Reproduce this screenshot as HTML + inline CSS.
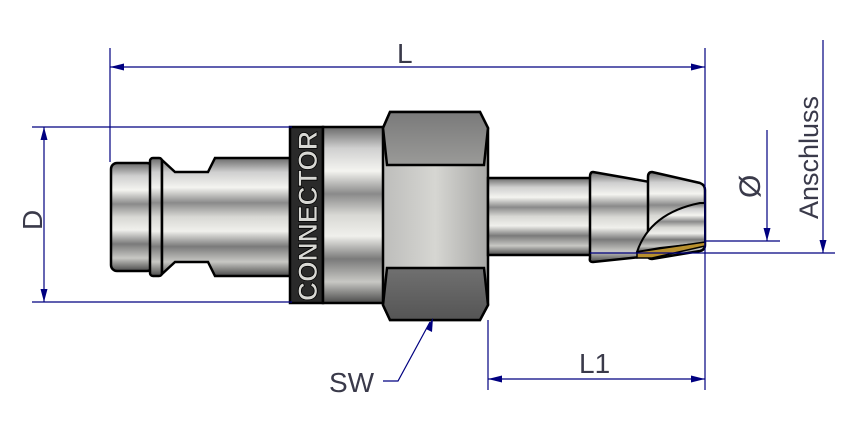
<!DOCTYPE html>
<html><head><meta charset="utf-8"><style>
html,body{margin:0;padding:0;background:#fff;width:854px;height:440px;overflow:hidden}
svg{display:block}
text{font-family:"Liberation Sans",sans-serif;fill:#3a3a4a}
</style></head><body>
<svg width="854" height="440" viewBox="0 0 854 440" xmlns="http://www.w3.org/2000/svg">
<defs>
<linearGradient id="m" x1="0" y1="0" x2="0" y2="1">
<stop offset="0" stop-color="#6a6a6a"/><stop offset="0.12" stop-color="#cfcfcf"/>
<stop offset="0.25" stop-color="#f4f4f0"/><stop offset="0.38" stop-color="#8a8a8a"/>
<stop offset="0.5" stop-color="#d8d8d4"/><stop offset="0.62" stop-color="#f0f0ec"/>
<stop offset="0.75" stop-color="#7a7a7a"/><stop offset="0.88" stop-color="#c8c8c4"/>
<stop offset="1" stop-color="#4a4a4a"/></linearGradient>
<linearGradient id="hexTop" x1="0" y1="0" x2="0" y2="1"><stop offset="0" stop-color="#7a7a7a"/><stop offset="1" stop-color="#9a9a98"/></linearGradient>
<linearGradient id="hexBot" x1="0" y1="0" x2="0" y2="1"><stop offset="0" stop-color="#707070"/><stop offset="1" stop-color="#555"/></linearGradient>
<linearGradient id="hexMid" x1="0" y1="0" x2="1" y2="0"><stop offset="0" stop-color="#bdbdbb"/><stop offset="0.5" stop-color="#d6d6d2"/><stop offset="1" stop-color="#a8a8a6"/></linearGradient>
</defs>
<g stroke="#000" stroke-width="2.5">
<rect x="111" y="163" width="42" height="108" rx="6" fill="url(#m)"/>
<rect x="150" y="158" width="12" height="118" rx="3" fill="url(#m)"/>
<path d="M162 160 L175 172 L208 172 L215 158 L290 158 L290 276 L215 276 L208 262 L175 262 L162 274 Z" fill="url(#m)"/>
<rect x="290" y="127" width="33" height="176" fill="#2a2a2a"/>
<rect x="323" y="127" width="62" height="176" fill="url(#m)"/>
<path d="M390 112 L480 112 L488 128 L488 305 L480 320 L390 320 L383 305 L383 128 Z" fill="url(#hexMid)"/>
<path d="M390 112 L480 112 L488 128 L484 165 L387 165 L383 128 Z" fill="url(#hexTop)"/>
<path d="M387 268 L484 268 L488 305 L480 320 L390 320 L383 305 Z" fill="url(#hexBot)"/>
<rect x="488" y="178" width="103" height="77" fill="url(#m)"/>
<path d="M593 172 L650 182 L650 256 L593 262 Q589 262 590 258 L590 177 Q590 172 593 172 Z" fill="url(#m)"/>
<path d="M652 172 L700 183 Q705 185 705 190 L705 245 Q705 250 700 251 L652 259 Q648 259 648 255 L648 177 Q648 172 652 172 Z" fill="url(#m)"/>
<path d="M637 252 Q650 213 700 203 L705 203 L705 243 L660 248 Z" fill="url(#m)" stroke-width="2"/>
<path d="M637 252 L705 242 L705 246 L652 258 L637 258 Z" fill="#b8902e" stroke-width="1.5"/>
</g>
<text transform="translate(317,301) rotate(-90)" font-size="27" font-weight="bold" style="fill:#d8d8d4;stroke:#000;stroke-width:0.8" textLength="170" lengthAdjust="spacingAndGlyphs">CONNECTOR</text>
<g stroke="#000080" stroke-width="1.2" fill="none">
<line x1="110" y1="48" x2="110" y2="162"/>
<line x1="705" y1="48" x2="705" y2="390"/>
<line x1="110" y1="67" x2="705" y2="67"/>
<line x1="32" y1="127" x2="292" y2="127"/>
<line x1="32" y1="302" x2="292" y2="302"/>
<line x1="44" y1="127" x2="44" y2="302"/>
<line x1="488" y1="320" x2="488" y2="390"/>
<line x1="488" y1="379" x2="705" y2="379"/>
<line x1="767" y1="130" x2="767" y2="241"/>
<line x1="705" y1="241" x2="780" y2="241"/>
<line x1="823" y1="40" x2="823" y2="253"/>
<line x1="590" y1="253" x2="835" y2="253"/>
<polyline points="383,381 398,381 430,322"/>
</g>
<g fill="#000080">
<path d="M110 67 l14 -3.5 v7 z"/><path d="M705 67 l-14 -3.5 v7 z"/>
<path d="M44 127 l-3.5 13 h7 z"/><path d="M44 302 l-3.5 -13 h7 z"/>
<path d="M488 379 l14 -3.5 v7 z"/><path d="M705 379 l-14 -3.5 v7 z"/>
<path d="M767 241 l-3.5 -13 h7 z"/><path d="M823 253 l-3.5 -13 h7 z"/>
<path d="M433 318 l-1 14 l-6 -3 z"/>
</g>
<text x="397" y="63" font-size="28">L</text>
<text x="579" y="373" font-size="28">L1</text>
<text x="329" y="392" font-size="28">SW</text>
<text transform="translate(42,230) rotate(-90)" font-size="28">D</text>
<text transform="translate(760,198) rotate(-90)" font-size="30">Ø</text>
<text transform="translate(818,219) rotate(-90)" font-size="27">Anschluss</text>
</svg>
</body></html>
